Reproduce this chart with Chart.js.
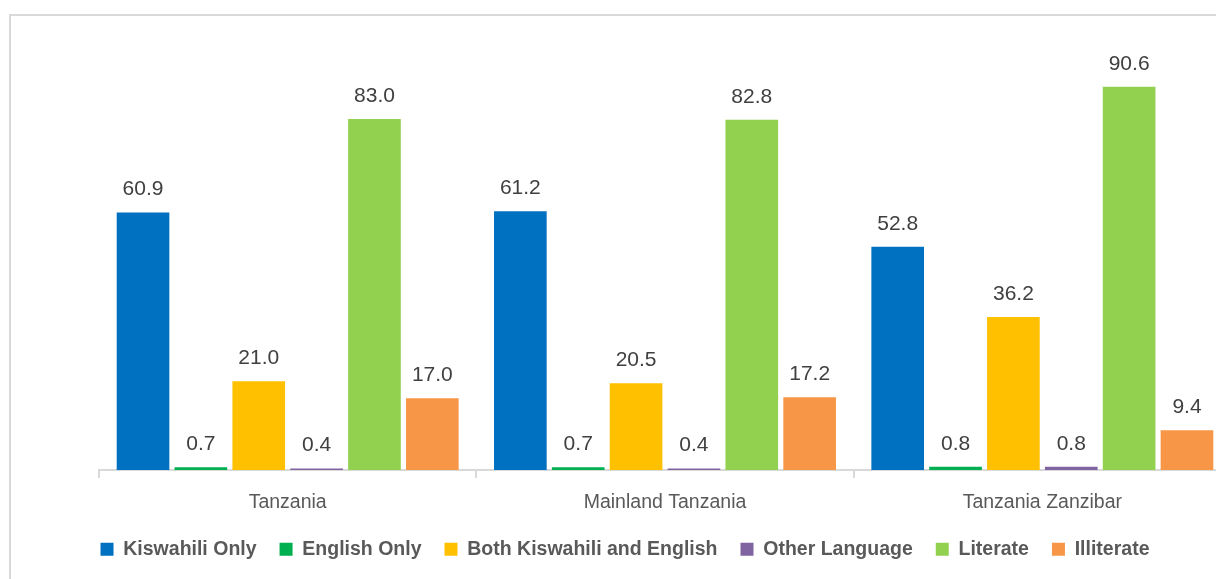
<!DOCTYPE html>
<html>
<head>
<meta charset="utf-8">
<script src="https://cdn.jsdelivr.net/npm/chart.js@4.4.1/dist/chart.umd.min.js"></script>
<style>
  html, body { margin: 0; padding: 0; background: #fff; overflow: hidden; }
  body { width: 1216px; height: 579px; position: relative; }
  #frame {
    position: absolute; left: 9px; top: 14px; width: 1300px; height: 700px;
    border: 2px solid #d9d9d9; box-sizing: border-box;
  }
  #wrap { position: absolute; left: 0; top: 0; width: 1250px; height: 584px; }
</style>
</head>
<body>
<div id="frame"></div>
<div id="wrap"><canvas id="chart" width="1250" height="584"></canvas></div>
<script>
// Categories and series
const regions = ['Tanzania', 'Mainland Tanzania', 'Tanzania Zanzibar'];
const kiswahiliOnly = [60.9, 61.2, 52.8];
const englishOnly = [0.7, 0.7, 0.8];
const bothLanguages = [21.0, 20.5, 36.2];
const otherLanguage = [0.4, 0.4, 0.8];
const literate = [83.0, 82.8, 90.6];
const illiterate = [17.0, 17.2, 9.4];

const seriesNames = ['Kiswahili Only', 'English Only', 'Both Kiswahili and English',
  'Other Language', 'Literate', 'Illiterate'];
const seriesColors = ['#0070C0', '#00B050', '#FFC000', '#8064A2', '#92D050', '#F79646'];
const seriesValues = [kiswahiliOnly, englishOnly, bothLanguages, otherLanguage, literate, illiterate];

const FONT = '"Liberation Sans", Arial, sans-serif';

// Draws the value above each bar
const valueLabels = {
  id: 'valueLabels',
  afterDatasetsDraw(chart) {
    const ctx = chart.ctx;
    ctx.save();
    ctx.font = '21px ' + FONT;
    ctx.fillStyle = '#404040';
    ctx.textAlign = 'center';
    ctx.textBaseline = 'alphabetic';
    chart.data.datasets.forEach((ds, i) => {
      chart.getDatasetMeta(i).data.forEach((bar, j) => {
        ctx.fillText(ds.data[j].toFixed(1), bar.x, bar.y - 17);
      });
    });
    ctx.restore();
  }
};

// The legend sits centred on the page rather than on the (wider) plot area
const legendShift = {
  id: 'legendShift',
  afterLayout(chart) {
    const lg = chart.legend;
    lg.left -= 40; lg.right -= 40;
    lg.top -= 11; lg.bottom -= 11;
  }
};

new Chart(document.getElementById('chart'), {
  type: 'bar',
  data: {
    labels: regions,
    datasets: seriesNames.map((name, i) => ({
      label: name,
      data: seriesValues[i],
      backgroundColor: seriesColors[i],
      borderWidth: 0,
      categoryPercentage: 0.92,
      barPercentage: 0.91
    }))
  },
  options: {
    responsive: false,
    animation: false,
    layout: { padding: { left: 99, right: 19, top: 47, bottom: 4 } },
    scales: {
      y: { display: false, min: 0, max: 100 },
      x: {
        grid: {
          offset: true,
          drawOnChartArea: false,
          drawTicks: true,
          tickLength: 8,
          color: '#d9d9d9',
          lineWidth: 2
        },
        border: { color: '#d9d9d9', width: 2 },
        ticks: {
          color: '#595959',
          font: { family: FONT, size: 19.5 },
          padding: 13
        }
      }
    },
    plugins: {
      tooltip: { enabled: false },
      legend: {
        position: 'bottom',
        labels: {
          boxWidth: 13,
          boxHeight: 13,
          padding: 23,
          color: '#595959',
          font: { family: FONT, size: 19.5, weight: 'bold' }
        }
      }
    }
  },
  plugins: [valueLabels, legendShift]
});
</script>
</body>
</html>
